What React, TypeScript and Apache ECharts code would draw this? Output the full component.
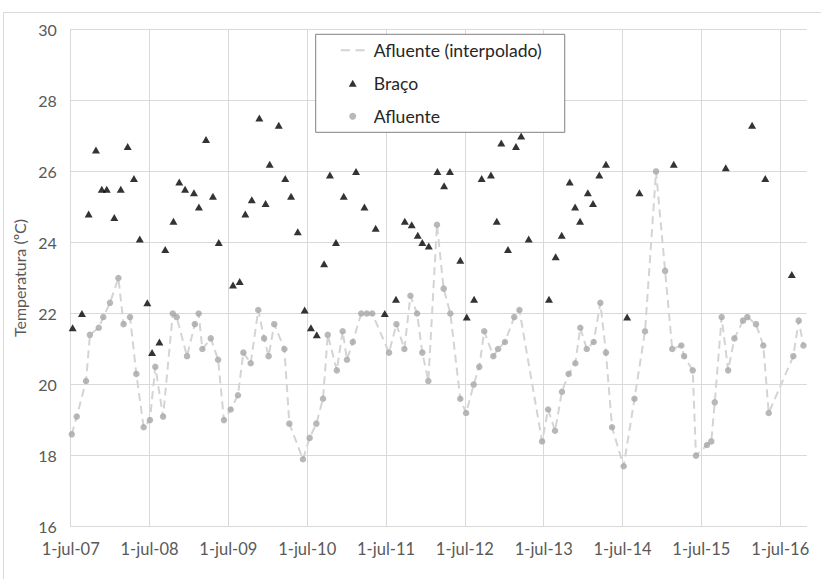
import React, { useEffect, useRef } from "react";
import * as echarts from "echarts";

const bracoDates = [
  "2007-07-10", "2007-08-22", "2007-09-22", "2007-10-26", "2007-11-22", "2007-12-15",
  "2008-01-19", "2008-02-18", "2008-03-21", "2008-04-19", "2008-05-16", "2008-06-20",
  "2008-07-12", "2008-08-15", "2008-09-11", "2008-10-19", "2008-11-15", "2008-12-12",
  "2009-01-22", "2009-02-14", "2009-03-19", "2009-04-20", "2009-05-17", "2009-07-22",
  "2009-08-22", "2009-09-17", "2009-10-17", "2009-11-21", "2009-12-20", "2010-01-08",
  "2010-02-19", "2010-03-21", "2010-04-17", "2010-05-18", "2010-06-19", "2010-07-18",
  "2010-08-14", "2010-09-17", "2010-10-14", "2010-11-11", "2010-12-17", "2011-02-12",
  "2011-03-23", "2011-05-14", "2011-06-25", "2011-08-16", "2011-09-26", "2011-10-28",
  "2011-11-25", "2011-12-16", "2012-01-15", "2012-02-24", "2012-03-26", "2012-04-22",
  "2012-06-09", "2012-07-09", "2012-08-12", "2012-09-16", "2012-10-29", "2012-11-25",
  "2012-12-16", "2013-01-16", "2013-02-22", "2013-03-18", "2013-04-22", "2013-07-25",
  "2013-08-25", "2013-09-22", "2013-10-29", "2013-11-23", "2013-12-16", "2014-01-21",
  "2014-02-14", "2014-03-15", "2014-04-15", "2014-07-22", "2014-09-17", "2015-02-23",
  "2015-10-22", "2016-02-21", "2016-04-22", "2016-08-23",
];
const bracoValues = [
  21.6, 22.0, 24.8, 26.6, 25.5, 25.5,
  24.7, 25.5, 26.7, 25.8, 24.1, 22.3,
  20.9, 21.2, 23.8, 24.6, 25.7, 25.5,
  25.4, 25.0, 26.9, 25.3, 24.0, 22.8,
  22.9, 24.8, 25.2, 27.5, 25.1, 26.2,
  27.3, 25.8, 25.3, 24.3, 22.1, 21.6,
  21.4, 23.4, 25.9, 24.0, 25.3, 26.0,
  25.0, 24.4, 22.0, 22.4, 24.6, 24.5,
  24.2, 24.0, 23.9, 26.0, 25.6, 26.0,
  23.5, 21.9, 22.4, 25.8, 25.9, 24.6,
  26.8, 23.8, 26.7, 27.0, 24.1, 22.4,
  23.6, 24.2, 25.7, 25.0, 24.6, 25.4,
  25.1, 25.9, 26.2, 21.9, 25.4, 26.2,
  26.1, 27.3, 25.8, 23.1,
];

const afluenteDates = [
  "2007-07-06", "2007-07-29", "2007-09-10", "2007-09-28", "2007-11-08", "2007-11-29",
  "2007-12-30", "2008-02-07", "2008-03-02", "2008-04-01", "2008-04-30", "2008-06-03",
  "2008-07-02", "2008-07-27", "2008-09-01", "2008-10-16", "2008-11-03", "2008-12-21",
  "2009-01-26", "2009-02-13", "2009-03-02", "2009-04-10", "2009-05-14", "2009-06-10",
  "2009-07-11", "2009-08-14", "2009-09-08", "2009-10-12", "2009-11-16", "2009-12-13",
  "2010-01-03", "2010-01-29", "2010-03-17", "2010-04-09", "2010-06-11", "2010-07-12",
  "2010-08-12", "2010-09-12", "2010-10-04", "2010-11-15", "2010-12-12", "2011-01-01",
  "2011-01-28", "2011-03-08", "2011-04-03", "2011-04-28", "2011-07-15", "2011-08-18",
  "2011-09-24", "2011-10-22", "2011-11-22", "2011-12-16", "2012-01-13", "2012-02-22",
  "2012-03-24", "2012-04-24", "2012-06-09", "2012-07-06", "2012-08-10", "2012-09-05",
  "2012-09-28", "2012-11-09", "2012-12-01", "2013-01-02", "2013-02-14", "2013-03-10",
  "2013-06-23", "2013-07-21", "2013-08-22", "2013-09-23", "2013-10-24", "2013-11-24",
  "2013-12-17", "2014-01-16", "2014-02-17", "2014-03-20", "2014-04-15", "2014-05-13",
  "2014-07-06", "2014-08-25", "2014-10-13", "2014-12-03", "2015-01-14", "2015-02-16",
  "2015-03-30", "2015-04-12", "2015-05-22", "2015-06-06", "2015-07-27", "2015-08-16",
  "2015-09-01", "2015-10-03", "2015-11-02", "2015-12-01", "2016-01-10", "2016-01-30",
  "2016-03-10", "2016-04-13", "2016-05-08", "2016-08-30", "2016-09-24", "2016-10-16",
];
const afluenteValues = [
  18.6, 19.1, 20.1, 21.4, 21.6, 21.9,
  22.3, 23.0, 21.7, 21.9, 20.3, 18.8,
  19.0, 20.5, 19.1, 22.0, 21.9, 20.8,
  21.7, 22.0, 21.0, 21.3, 20.7, 19.0,
  19.3, 19.7, 20.9, 20.6, 22.1, 21.3,
  20.8, 21.7, 21.0, 18.9, 17.9, 18.5,
  18.9, 19.6, 21.4, 20.4, 21.5, 20.7,
  21.2, 22.0, 22.0, 22.0, 20.9, 21.7,
  21.0, 22.5, 22.0, 20.9, 20.1, 24.5,
  22.7, 22.0, 19.6, 19.2, 20.0, 20.5,
  21.5, 20.8, 21.0, 21.2, 21.9, 22.1,
  18.4, 19.3, 18.7, 19.8, 20.3, 20.6,
  21.6, 21.0, 21.2, 22.3, 20.9, 18.8,
  17.7, 19.6, 21.5, 26.0, 23.2, 21.0,
  21.1, 20.8, 20.4, 18.0, 18.3, 18.4,
  19.5, 21.9, 20.4, 21.3, 21.8, 21.9,
  21.7, 21.1, 19.2, 20.8, 21.8, 21.1,
];

const yTicks = { min: 16, max: 30, step: 2 };
const xStart = "2007-07-01";
const xEnd = "2016-10-31";

const DAY = 86400000;
const FONT = "Lato";

export default function App() {
  const ref = useRef<HTMLDivElement>(null);
  useEffect(() => {
    if (!ref.current) return;
    const chart = echarts.init(ref.current, undefined, { renderer: "svg" });
    const braco = bracoDates.map((d, i) => [Date.parse(d), bracoValues[i]]);
    const afl = afluenteDates.map((d, i) => [Date.parse(d), afluenteValues[i]]);
    const months = ["jan", "fev", "mar", "abr", "mai", "jun", "jul", "ago", "set", "out", "nov", "dez"];
    chart.setOption({
      animation: false,
      backgroundColor: "#ffffff",
      textStyle: { fontFamily: FONT },
      graphic: [
        {
          type: "rect",
          silent: true,
          z: -10,
          shape: { x: 3.5, y: 12.5, width: 900, height: 700 },
          style: { fill: "none", stroke: "#d9d9d9", lineWidth: 1 },
        },
      ],
      grid: { left: 70.7, right: 14.3, top: 29.3, bottom: 52.3, containLabel: false },
      legend: {
        orient: "vertical",
        left: 315.7,
        top: 34.3,
        padding: [6, 23, 6, 25],
        itemGap: 13,
        itemWidth: 24,
        itemHeight: 7,
        symbolKeepAspect: true,
        borderColor: "#808080",
        borderWidth: 1,
        backgroundColor: "#ffffff",
        textStyle: { fontFamily: FONT, fontSize: 17.6, color: "#262626", padding: [0, 0, 0, 4], lineHeight: 20 },
        data: [
          { name: "Afluente (interpolado)", icon: "path://M0,0h9v2h-9z M14.5,0h9v2h-9z" },
          { name: "Braço", icon: "path://M0,7L4,0L8,7Z" },
          { name: "Afluente", icon: "circle" },
        ],
      },
      xAxis: {
        type: "value",
        min: Date.parse(xStart),
        max: Date.parse(xEnd),
        interval: 365.25 * DAY,
        axisLine: { show: true, lineStyle: { color: "#d9d9d9", width: 1 } },
        axisTick: { show: false },
        splitLine: { show: true, showMaxLine: false, lineStyle: { color: "#d9d9d9", width: 1 } },
        axisLabel: {
          fontFamily: FONT,
          fontSize: 16.5,
          color: "#595959",
          margin: 14,
          showMaxLabel: true,
          formatter: (v: number) => {
            const d = new Date(v + 2 * DAY);
            if (d.getUTCMonth() !== 6 || d.getUTCDate() > 5) return "";
            return "1-" + months[6] + "-" + String(d.getUTCFullYear() % 100).padStart(2, "0");
          },
        },
      },
      yAxis: {
        type: "value",
        min: yTicks.min,
        max: yTicks.max,
        interval: yTicks.step,
        name: "Temperatura (ºC)",
        nameLocation: "middle",
        nameGap: 42,
        nameTextStyle: { fontFamily: FONT, fontSize: 16, color: "#595959" },
        axisLine: { show: true, lineStyle: { color: "#d9d9d9", width: 1 } },
        axisTick: { show: false },
        splitLine: { show: true, lineStyle: { color: "#d9d9d9", width: 1 } },
        axisLabel: { fontFamily: FONT, fontSize: 16, color: "#595959", margin: 14 },
      },
      series: [
        {
          name: "Afluente (interpolado)",
          type: "line",
          data: afl,
          symbol: "none",
          showSymbol: false,
          z: 1,
          lineStyle: { color: "#d4d4d4", width: 2, type: [8, 5] },
          itemStyle: { color: "#d4d4d4" },
        },
        {
          name: "Braço",
          type: "scatter",
          data: braco,
          symbol: "triangle",
          symbolSize: [8, 7],
          z: 3,
          itemStyle: { color: "#000000" },
        },
        {
          name: "Afluente",
          type: "scatter",
          data: afl,
          symbol: "circle",
          symbolSize: 6.5,
          z: 2,
          itemStyle: { color: "#a6a6a6" },
        },
      ],
    });
    return () => chart.dispose();
  }, []);
  return (
    <div
      ref={ref}
      style={{ position: "fixed", left: 0, top: 0, width: 821, height: 579 }}
    />
  );
}
